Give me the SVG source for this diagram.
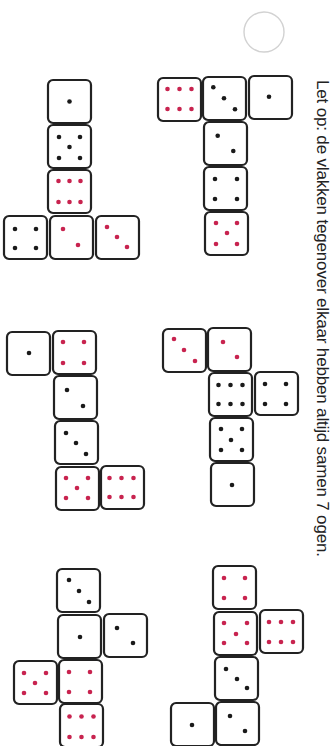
<svg xmlns="http://www.w3.org/2000/svg" width="333" height="746" viewBox="0 0 333 746">
<style>
.die rect{fill:#fff;stroke:#222;stroke-width:2.2}
.b{fill:#1a1a1a}
.r{fill:#c8234f}
.note{font-family:"Liberation Sans","DejaVu Sans",sans-serif;font-size:17px;fill:#222}
</style>
<rect width="333" height="746" fill="#fff"/>
<circle id="hole" cx="264" cy="32" r="20" fill="none" stroke="#d2d2d2" stroke-width="1.4"/>
<text class="note" transform="translate(317,80) rotate(90)" textLength="477" lengthAdjust="spacing">Let op: de vlakken tegenover elkaar hebben altijd samen 7 ogen.</text>

<g id="netA">
<g id="a1" class="die" transform="translate(48,80)"><rect width="43" height="43" rx="5"/><circle class="b" cx="21.5" cy="21.5" r="2.3"/></g>
<g id="a2" class="die" transform="translate(48,125)"><rect width="43" height="43" rx="5"/><circle class="b" cx="11" cy="12" r="2.3"/><circle class="b" cx="32" cy="12" r="2.3"/><circle class="b" cx="21.5" cy="22" r="2.3"/><circle class="b" cx="11" cy="33" r="2.3"/><circle class="b" cx="32" cy="33" r="2.3"/></g>
<g id="a3" class="die" transform="translate(48,170)"><rect width="43" height="43" rx="5"/><circle class="r" cx="10.5" cy="11" r="2.3"/><circle class="r" cx="21.5" cy="11" r="2.3"/><circle class="r" cx="32.5" cy="11" r="2.3"/><circle class="r" cx="10.5" cy="32" r="2.3"/><circle class="r" cx="21.5" cy="32" r="2.3"/><circle class="r" cx="32.5" cy="32" r="2.3"/></g>
<g id="a4" class="die" transform="translate(4,216)"><rect width="43" height="43" rx="5"/><circle class="b" cx="11" cy="13" r="2.3"/><circle class="b" cx="32" cy="13" r="2.3"/><circle class="b" cx="11" cy="32" r="2.3"/><circle class="b" cx="32" cy="32" r="2.3"/></g>
<g id="a5" class="die" transform="translate(50,216)"><rect width="43" height="43" rx="5"/><circle class="r" cx="13" cy="13" r="2.3"/><circle class="r" cx="28" cy="29" r="2.3"/></g>
<g id="a6" class="die" transform="translate(96,216)"><rect width="43" height="43" rx="5"/><circle class="r" cx="11" cy="11" r="2.3"/><circle class="r" cx="21" cy="21" r="2.3"/><circle class="r" cx="31" cy="31" r="2.3"/></g>
</g>

<g id="netB">
<g id="b1" class="die" transform="translate(158,78)"><rect width="43" height="43" rx="5"/><circle class="r" cx="9.5" cy="11" r="2.3"/><circle class="r" cx="21.5" cy="11" r="2.3"/><circle class="r" cx="33.5" cy="11" r="2.3"/><circle class="r" cx="9.5" cy="31" r="2.3"/><circle class="r" cx="21.5" cy="31" r="2.3"/><circle class="r" cx="33.5" cy="31" r="2.3"/></g>
<g id="b2" class="die" transform="translate(203,77)"><rect width="43" height="43" rx="5"/><circle class="b" cx="10.3" cy="10.3" r="2.3"/><circle class="b" cx="21" cy="21.3" r="2.3"/><circle class="b" cx="32" cy="32.3" r="2.3"/></g>
<g id="b3" class="die" transform="translate(249,76)"><rect width="43" height="43" rx="5"/><circle class="b" cx="20" cy="20.7" r="2.3"/></g>
<g id="b4" class="die" transform="translate(204,122)"><rect width="43" height="43" rx="5"/><circle class="b" cx="13.7" cy="13.7" r="2.3"/><circle class="b" cx="29.3" cy="29" r="2.3"/></g>
<g id="b5" class="die" transform="translate(204,167)"><rect width="43" height="43" rx="5"/><circle class="b" cx="11" cy="12" r="2.3"/><circle class="b" cx="33" cy="12" r="2.3"/><circle class="b" cx="11" cy="32" r="2.3"/><circle class="b" cx="33" cy="32" r="2.3"/></g>
<g id="b6" class="die" transform="translate(205,212)"><rect width="43" height="43" rx="5"/><circle class="r" cx="11" cy="11" r="2.3"/><circle class="r" cx="32" cy="11" r="2.3"/><circle class="r" cx="22" cy="21" r="2.3"/><circle class="r" cx="11" cy="32" r="2.3"/><circle class="r" cx="32" cy="32" r="2.3"/></g>
</g>

<g id="netC">
<g id="c1" class="die" transform="translate(7,332)"><rect width="43" height="43" rx="5"/><circle class="b" cx="22" cy="21" r="2.3"/></g>
<g id="c2" class="die" transform="translate(53,331)"><rect width="43" height="43" rx="5"/><circle class="r" cx="10" cy="11" r="2.3"/><circle class="r" cx="31" cy="11" r="2.3"/><circle class="r" cx="10" cy="32" r="2.3"/><circle class="r" cx="31" cy="32" r="2.3"/></g>
<g id="c3" class="die" transform="translate(54,376)"><rect width="43" height="43" rx="5"/><circle class="b" cx="13" cy="14" r="2.3"/><circle class="b" cx="29" cy="30" r="2.3"/></g>
<g id="c4" class="die" transform="translate(55,421)"><rect width="43" height="43" rx="5"/><circle class="b" cx="11" cy="12" r="2.3"/><circle class="b" cx="21" cy="22" r="2.3"/><circle class="b" cx="31" cy="33" r="2.3"/></g>
<g id="c5" class="die" transform="translate(56,467)"><rect width="43" height="43" rx="5"/><circle class="r" cx="10" cy="11" r="2.3"/><circle class="r" cx="32" cy="11" r="2.3"/><circle class="r" cx="21" cy="21" r="2.3"/><circle class="r" cx="10" cy="31" r="2.3"/><circle class="r" cx="32" cy="31" r="2.3"/></g>
<g id="c6" class="die" transform="translate(101,466)"><rect width="43" height="43" rx="5"/><circle class="r" cx="8.5" cy="12" r="2.3"/><circle class="r" cx="20.5" cy="12" r="2.3"/><circle class="r" cx="32.5" cy="12" r="2.3"/><circle class="r" cx="8.5" cy="31" r="2.3"/><circle class="r" cx="20.5" cy="31" r="2.3"/><circle class="r" cx="32.5" cy="31" r="2.3"/></g>
</g>

<g id="netD">
<g id="d1" class="die" transform="translate(163,329)"><rect width="43" height="43" rx="5"/><circle class="r" cx="11" cy="10" r="2.3"/><circle class="r" cx="21" cy="21" r="2.3"/><circle class="r" cx="32" cy="32" r="2.3"/></g>
<g id="d2" class="die" transform="translate(208,328)"><rect width="43" height="43" rx="5"/><circle class="r" cx="15" cy="14" r="2.3"/><circle class="r" cx="29" cy="29" r="2.3"/></g>
<g id="d3" class="die" transform="translate(209,373)"><rect width="43" height="43" rx="5"/><circle class="b" cx="9.5" cy="12" r="2.3"/><circle class="b" cx="21.5" cy="12" r="2.3"/><circle class="b" cx="33.5" cy="12" r="2.3"/><circle class="b" cx="9.5" cy="31" r="2.3"/><circle class="b" cx="21.5" cy="31" r="2.3"/><circle class="b" cx="33.5" cy="31" r="2.3"/></g>
<g id="d4" class="die" transform="translate(255,372)"><rect width="43" height="43" rx="5"/><circle class="b" cx="10" cy="12" r="2.3"/><circle class="b" cx="31" cy="12" r="2.3"/><circle class="b" cx="10" cy="32" r="2.3"/><circle class="b" cx="31" cy="32" r="2.3"/></g>
<g id="d5" class="die" transform="translate(210,418)"><rect width="43" height="43" rx="5"/><circle class="b" cx="11" cy="11" r="2.3"/><circle class="b" cx="32" cy="11" r="2.3"/><circle class="b" cx="21" cy="22" r="2.3"/><circle class="b" cx="11" cy="32" r="2.3"/><circle class="b" cx="32" cy="32" r="2.3"/></g>
<g id="d6" class="die" transform="translate(211,463)"><rect width="43" height="43" rx="5"/><circle class="b" cx="21" cy="22" r="2.3"/></g>
</g>

<g id="netE">
<g id="e1" class="die" transform="translate(57,569)"><rect width="43" height="43" rx="5"/><circle class="b" cx="12" cy="11" r="2.3"/><circle class="b" cx="22" cy="22" r="2.3"/><circle class="b" cx="32" cy="33" r="2.3"/></g>
<g id="e2" class="die" transform="translate(58,615)"><rect width="43" height="43" rx="5"/><circle class="b" cx="22" cy="22" r="2.3"/></g>
<g id="e3" class="die" transform="translate(104,614)"><rect width="43" height="43" rx="5"/><circle class="b" cx="13" cy="14" r="2.3"/><circle class="b" cx="29" cy="29" r="2.3"/></g>
<g id="e4" class="die" transform="translate(59,660)"><rect width="43" height="43" rx="5"/><circle class="r" cx="10" cy="12" r="2.3"/><circle class="r" cx="31" cy="12" r="2.3"/><circle class="r" cx="10" cy="32" r="2.3"/><circle class="r" cx="31" cy="32" r="2.3"/></g>
<g id="e5" class="die" transform="translate(14,661)"><rect width="43" height="43" rx="5"/><circle class="r" cx="10" cy="12" r="2.3"/><circle class="r" cx="32" cy="12" r="2.3"/><circle class="r" cx="21" cy="22" r="2.3"/><circle class="r" cx="10" cy="32" r="2.3"/><circle class="r" cx="32" cy="32" r="2.3"/></g>
<g id="e6" class="die" transform="translate(60,704)"><rect width="43" height="43" rx="5"/><circle class="r" cx="9.5" cy="12.5" r="2.3"/><circle class="r" cx="21.5" cy="12.5" r="2.3"/><circle class="r" cx="33.5" cy="12.5" r="2.3"/><circle class="r" cx="9.5" cy="33" r="2.3"/><circle class="r" cx="21.5" cy="33" r="2.3"/><circle class="r" cx="33.5" cy="33" r="2.3"/></g>
</g>

<g id="netF">
<g id="f1" class="die" transform="translate(213,566)"><rect width="43" height="43" rx="5"/><circle class="r" cx="11" cy="12" r="2.3"/><circle class="r" cx="32" cy="12" r="2.3"/><circle class="r" cx="11" cy="32" r="2.3"/><circle class="r" cx="32" cy="32" r="2.3"/></g>
<g id="f2" class="die" transform="translate(214,612)"><rect width="43" height="43" rx="5"/><circle class="r" cx="10" cy="11" r="2.3"/><circle class="r" cx="33" cy="11" r="2.3"/><circle class="r" cx="22" cy="22" r="2.3"/><circle class="r" cx="10" cy="31" r="2.3"/><circle class="r" cx="33" cy="31" r="2.3"/></g>
<g id="f3" class="die" transform="translate(260,610)"><rect width="43" height="43" rx="5"/><circle class="r" cx="9" cy="12" r="2.3"/><circle class="r" cx="21" cy="12" r="2.3"/><circle class="r" cx="33" cy="12" r="2.3"/><circle class="r" cx="9" cy="32" r="2.3"/><circle class="r" cx="21" cy="32" r="2.3"/><circle class="r" cx="33" cy="32" r="2.3"/></g>
<g id="f4" class="die" transform="translate(215,657)"><rect width="43" height="43" rx="5"/><circle class="b" cx="11" cy="12" r="2.3"/><circle class="b" cx="22" cy="22" r="2.3"/><circle class="b" cx="32" cy="31" r="2.3"/></g>
<g id="f5" class="die" transform="translate(216,702)"><rect width="43" height="43" rx="5"/><circle class="b" cx="14" cy="14" r="2.3"/><circle class="b" cx="29" cy="29" r="2.3"/></g>
<g id="f6" class="die" transform="translate(171,703)"><rect width="43" height="43" rx="5"/><circle class="b" cx="21" cy="22" r="2.3"/></g>
</g>
</svg>
